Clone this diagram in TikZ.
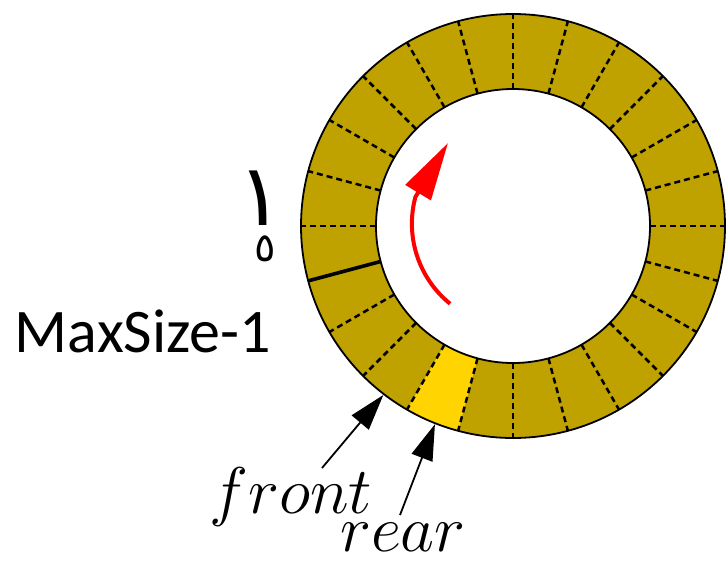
\RequirePackage{fix-cm}
\documentclass[tikz,border=0pt]{standalone}
\usepackage{fontspec}
\usetikzlibrary{arrows.meta,calc}
\newfontfamily\carlito{Carlito}
\newfontfamily\arabicfont[Script=Arabic]{DejaVu Sans}
\TeXXeTstate=1
\definecolor{ringcol}{RGB}{191,161,0}
\definecolor{slotcol}{RGB}{255,212,0}
\tikzset{
  sepdash/.style={line width=2.5pt, dash pattern=on 6pt off 4pt},
  sepsolid/.style={line width=3.6pt},
  rim/.style={line width=1.8pt},
  ptr/.style={line width=1.8pt, -{Triangle[length=36pt,width=22pt]}},
  turn/.style={red, line width=4pt, -{Triangle[length=58pt,width=29pt]}},
  lbl/.style={inner sep=0pt, anchor=base}
}
\begin{document}
\begin{tikzpicture}[x=1pt,y=1pt]
\useasboundingbox (0,0) rectangle (727,-562);
\coordinate (c) at (513,-226);
% ring
\fill[ringcol, even odd rule] (c) circle (212) (c) circle (137);
% highlighted slot (rear)
\fill[slotcol] ($(c)+(240:212)$) arc[start angle=240,end angle=255,radius=212]
  -- ($(c)+(255:137)$) arc[start angle=255,end angle=240,radius=137] -- cycle;
% separators
\foreach \a in {0,15,...,180,210,225,...,345}
  \draw[sepdash] ($(c)+(\a:137)$) -- ($(c)+(\a:212)$);
\draw[sepsolid] ($(c)+(195:137)$) -- ($(c)+(195:212)$);
\draw[rim] (c) circle (212);
\draw[rim] (c) circle (137);
% rotation arrow
\coordinate (turntip) at (448,-143);
\draw[turn] ($(c)+(231:100)$) arc[start angle=231,end angle=165,radius=103] -- (turntip);
% labels
\node[lbl] (maxsize) at (143,-352) {\fontsize{62}{66}\carlito MaxSize-1};
\node[lbl] (one) at (261,-225) {\fontsize{86}{90}\arabicfont\beginR ١\endR};
\node[lbl] (zero) at (265,-261) {\fontsize{40}{44}\arabicfont\beginR ٥\endR};
\node[lbl] (front) at (291,-513) {\fontsize{66}{70}\selectfont$front$};
\node[lbl] (rear) at (403,-551) {\fontsize{66}{70}\selectfont$rear$};
% pointers
\coordinate (fronttail) at (322,-468);
\coordinate (fronttip) at ($(c)+(232.5:213)$);
\coordinate (reartail) at (400,-515);
\coordinate (reartip) at ($(c)+(248.5:213)$);
\draw[ptr] (fronttail) -- (fronttip);
\draw[ptr] (reartail) -- (reartip);
\end{tikzpicture}
\end{document}
